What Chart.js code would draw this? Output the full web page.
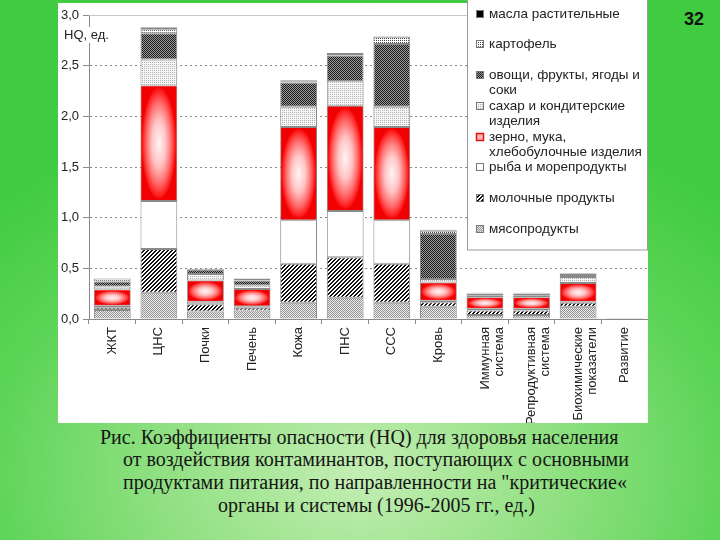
<!DOCTYPE html>
<html lang="ru">
<head>
<meta charset="utf-8">
<script src="https://cdn.jsdelivr.net/npm/chart.js@4.4.1/dist/chart.umd.min.js"></script>
<style>
  html, body { margin: 0; padding: 0; }
  body {
    width: 720px; height: 540px; overflow: hidden; position: relative;
    background: radial-gradient(ellipse 75% 70% at 50% 88%, #c4eeb4 0%, #93e184 35%, #5bd456 70%, #40cb40 100%);
  }
  #wrap { position: absolute; left: 58px; top: 0; width: 590px; height: 423px; }
  #num { position: absolute; left: 684px; top: 9px; font: bold 18px "Liberation Sans", Arial, sans-serif; color: #111; }
  .cap { position: absolute; font: 20px "Liberation Serif", "Times New Roman", serif; line-height: 22px; color: #151515; white-space: nowrap; }
</style>
</head>
<body>
<div id="wrap"><canvas id="chart" width="590" height="423"></canvas></div>
<div id="num">32</div>
<div class="cap" style="left:100px; top:426px">Рис. Коэффициенты опасности (HQ) для здоровья населения</div>
<div class="cap" style="left:123px; top:448px">от воздействия контаминантов, поступающих с основными</div>
<div class="cap" style="left:123px; top:471px">продуктами питания, по направленности на "критические«</div>
<div class="cap" style="left:218px; top:494px">органы и системы (1996-2005 гг., ед.)</div>
<script>
const categories = ['ЖКТ', 'ЦНС', 'Почки', 'Печень', 'Кожа', 'ПНС', 'ССС', 'Кровь',
  ['Иммунная', 'система'], ['Репродуктивная', 'система'], ['Биохимические', 'показатели'], 'Развитие'];

// HQ по группам продуктов, снизу вверх
const meat   = [0.09, 0.26, 0.075, 0.085, 0.16, 0.21, 0.16, 0.12, 0.04, 0.04, 0.12, 0.01];
const dairy  = [0.02, 0.43, 0.07, 0.025, 0.385, 0.40, 0.385, 0.045, 0.045, 0.045, 0.04, 0];
const fish   = [0.02, 0.475, 0.025, 0.015, 0.43, 0.455, 0.43, 0.015, 0.015, 0.015, 0.01, 0];
const grain  = [0.16, 1.14, 0.21, 0.17, 0.92, 1.04, 0.92, 0.18, 0.115, 0.115, 0.185, 0];
const sugar  = [0.03, 0.255, 0.065, 0.035, 0.20, 0.24, 0.20, 0.035, 0.015, 0.015, 0.06, 0];
const veg    = [0.05, 0.26, 0.04, 0.05, 0.24, 0.255, 0.62, 0.445, 0.02, 0.02, 0.02, 0];
const potato = [0.03, 0.04, 0.01, 0.015, 0.01, 0.015, 0.07, 0.03, 0.005, 0.005, 0.015, 0];
const oil    = [0, 0.02, 0, 0.005, 0.01, 0.01, 0.005, 0.01, 0.005, 0.005, 0.005, 0];

const yTicks = [0, 0.5, 1, 1.5, 2, 2.5, 3];

const canvas = document.getElementById('chart');
const ctx = canvas.getContext('2d');

function makePattern(size, pixels) {
  const tile = document.createElement('canvas');
  tile.width = tile.height = size;
  const t = tile.getContext('2d');
  pixels(t);
  return ctx.createPattern(tile, 'repeat');
}

function checker(a, b, cell) {
  return makePattern(cell * 2, t => {
    t.fillStyle = b; t.fillRect(0, 0, cell * 2, cell * 2);
    t.fillStyle = a; t.fillRect(0, 0, cell, cell); t.fillRect(cell, cell, cell, cell);
  });
}

const pMeat = checker('#8e8e8e', '#f0f0f0', 1);
const pVeg = checker('#1c1c1c', '#9a9a9a', 1);
const pPotato = makePattern(2, t => {
  t.fillStyle = '#ffffff'; t.fillRect(0, 0, 2, 2);
  t.fillStyle = '#444'; t.fillRect(0, 0, 1, 1);
});
const pSugar = makePattern(2, t => {
  t.fillStyle = '#f6f6f6'; t.fillRect(0, 0, 2, 2);
  t.fillStyle = '#b0b0b0'; t.fillRect(0, 0, 1, 1);
});
const pDairy = makePattern(4, t => {
  t.fillStyle = '#ffffff'; t.fillRect(0, 0, 4, 4);
  t.fillStyle = '#111111';
  for (let y = 0; y < 4; y++) {
    t.fillRect((3 - y + 4) % 4, y, 1, 1);
    t.fillRect((4 - y) % 4, y, 1, 1);
  }
});

const seriesStyle = [
  { label: 'мясопродукты', data: meat, backgroundColor: pMeat },
  { label: 'молочные продукты', data: dairy, backgroundColor: pDairy },
  { label: 'рыба и морепродукты', data: fish, backgroundColor: '#ffffff' },
  { label: 'зерно, мука,\nхлебобулочные изделия', data: grain, backgroundColor: '#ff2020' },
  { label: 'сахар и кондитерские\nизделия', data: sugar, backgroundColor: pSugar },
  { label: 'овощи, фрукты, ягоды и\nсоки', data: veg, backgroundColor: pVeg },
  { label: 'картофель', data: potato, backgroundColor: pPotato },
  { label: 'масла растительные', data: oil, backgroundColor: '#000000' }
];

function fillGrain(c, l, t, w, h) {
  c.save();
  c.beginPath(); c.rect(l, t, w, h); c.clip();
  c.translate(l + w / 2, t + h / 2);
  c.scale(w / 2, h / 2);
  const g = c.createRadialGradient(0, 0, 0, 0, 0, 1);
  g.addColorStop(0, '#fff4f4');
  g.addColorStop(0.4, '#ffc4c4');
  g.addColorStop(0.72, '#ff6a6a');
  g.addColorStop(0.92, '#ff2020');
  g.addColorStop(1, '#f00000');
  c.fillStyle = g;
  c.fillRect(-2, -2, 4, 4);
  c.restore();
}

const legendRows = [14, 44, 75, 106, 137, 167, 198, 229];

const decor = {
  id: 'decor',
  beforeDraw(chart) {
    const c = chart.ctx;
    c.save();
    c.fillStyle = '#ffffff';
    c.fillRect(0, 3, chart.width, chart.height - 3);
    c.restore();
  },
  beforeDatasetsDraw(chart) {
    const c = chart.ctx, a = chart.chartArea;
    const top = chart.scales.y.getPixelForValue(3);
    c.save();
    c.strokeStyle = '#c8c8c8'; c.lineWidth = 1;
    c.beginPath(); c.moveTo(a.left, Math.round(top) + 0.5); c.lineTo(a.right, Math.round(top) + 0.5); c.stroke();
    c.restore();
  },
  afterDatasetsDraw(chart) {
    const c = chart.ctx;
    chart.getDatasetMeta(3).data.forEach(bar => {
      const p = bar.getProps(['x', 'y', 'base', 'width'], true);
      const h = p.base - p.y - 2;
      if (h <= 0) return;
      fillGrain(c, p.x - p.width / 2 + 1, p.y + 1, p.width - 2, h);
    });
  },
  afterDraw(chart) {
    const c = chart.ctx;
    c.save();
    // подпись оси
    c.font = '13px "Liberation Sans", Arial, sans-serif';
    c.fillStyle = '#ffffff';
    c.fillRect(5, 27, 46, 16);
    c.fillStyle = '#222';
    c.textBaseline = 'middle';
    c.fillText('HQ, ед.', 6, 35);

    // легенда
    c.fillStyle = '#ffffff';
    c.fillRect(409, 0, 181, 250);
    c.strokeStyle = '#9a9a9a';
    c.strokeRect(409.5, -1, 180, 251);
    const ds = chart.data.datasets;
    c.font = '13.5px "Liberation Sans", Arial, sans-serif';
    for (let i = 0; i < ds.length; i++) {
      const d = ds[ds.length - 1 - i];
      const y = legendRows[i];
      const sx = 418, sy = y - 4;
      if (ds.length - 1 - i === 3) {
        c.fillStyle = '#ffb4b4'; c.fillRect(sx, sy, 8, 8);
        c.strokeStyle = '#e01010'; c.lineWidth = 1.5; c.strokeRect(sx + 0.5, sy + 0.5, 7, 7);
      } else {
        c.fillStyle = d.backgroundColor; c.fillRect(sx, sy, 8, 8);
        c.strokeStyle = '#777'; c.lineWidth = 1; c.strokeRect(sx + 0.5, sy + 0.5, 7, 7);
      }
      c.fillStyle = '#222';
      d.label.split('\n').forEach((line, k) => c.fillText(line, 431, y + k * 15));
    }
    c.restore();
  }
};

new Chart(ctx, {
  type: 'bar',
  data: {
    labels: categories,
    datasets: seriesStyle.map(s => ({
      label: s.label,
      data: s.data,
      backgroundColor: s.backgroundColor,
      borderColor: '#8a8a8a',
      borderWidth: 1,
      borderSkipped: false,
      barPercentage: 0.79,
      categoryPercentage: 1
    }))
  },
  options: {
    responsive: false,
    animation: false,
    devicePixelRatio: 1,
    layout: { padding: { top: 15, left: 0, right: 0, bottom: 0 } },
    plugins: { legend: { display: false }, tooltip: { enabled: false } },
    scales: {
      x: {
        stacked: true,
        afterFit: s => { s.height = 104; },
        grid: { drawOnChartArea: false, tickLength: 5, color: '#8a8a8a' },
        border: { color: '#8a8a8a' },
        ticks: {
          minRotation: 90, maxRotation: 90, padding: 3, autoSkip: false,
          color: '#222',
          font: { family: '"Liberation Sans", Arial, sans-serif', size: 13, lineHeight: 1.1 }
        }
      },
      y: {
        stacked: true,
        min: 0, max: 3,
        afterFit: s => { s.width = 31; },
        afterBuildTicks: s => { s.ticks = yTicks.map(v => ({ value: v })); },
        grid: {
          color: c => (c.tick && c.tick.value > 0 && c.tick.value < 3) ? '#8a8a8a' : 'rgba(0,0,0,0)',
          tickColor: '#8a8a8a',
          tickLength: 6
        },
        border: { color: '#8a8a8a', dash: [2, 3] },
        ticks: {
          padding: 4, color: '#222',
          font: { family: '"Liberation Sans", Arial, sans-serif', size: 13 },
          callback: v => v.toFixed(1).replace('.', ',')
        }
      }
    }
  },
  plugins: [decor]
});
</script>
</body>
</html>
